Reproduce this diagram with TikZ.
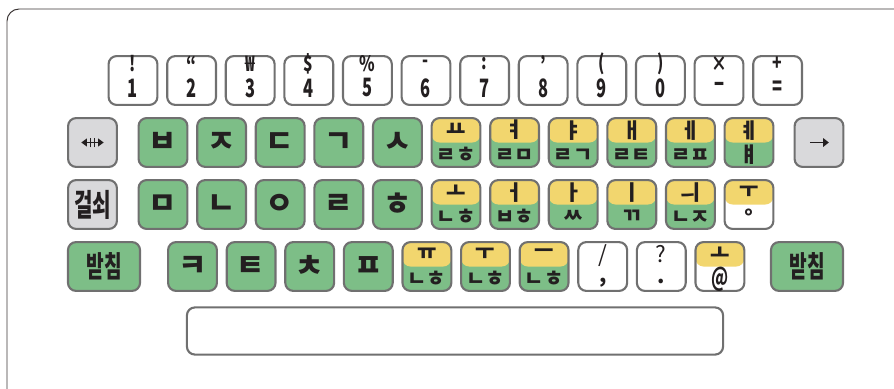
\documentclass[tikz,border=0pt]{standalone}
\usepackage{fontspec}
\setmainfont{Noto Sans CJK KR}
\usetikzlibrary{arrows.meta}
\definecolor{keygreen}{HTML}{7DBE87}
\definecolor{keyyellow}{HTML}{F2D66E}
\definecolor{keygray}{HTML}{D9D9DB}
\definecolor{keyline}{HTML}{707070}
\definecolor{ink}{HTML}{231F20}
\definecolor{frameline}{HTML}{3B3535}

\tikzset{
    key/.style={draw=keyline, line width=1.5pt, rounded corners=0.2cm, minimum width=1.22cm, minimum height=1.22cm, inner sep=0pt, text=ink},
    greenkey/.style={key, fill=keygreen, font=\fontsize{22}{22}\selectfont\bfseries},
    graykey/.style={key, fill=keygray},
    whitekey/.style={key, fill=white},
    widekey/.style={greenkey, minimum width=1.8cm, font=\fontsize{21}{21}\selectfont\bfseries},
    keytext/.style={inner sep=0pt, text=ink, font=\fontsize{15}{15}\selectfont\bfseries},
    numtext/.style={inner sep=0pt, text=ink, font=\fontsize{18}{18}\selectfont\bfseries}
}

% key with two halves: name, x, y, upper text, lower text, upper colour, lower colour, shifts
\newcommand{\halfkey}[9]{%
    \node[key, fill=#7, path picture={\fill[#6] (path picture bounding box.north west) rectangle (path picture bounding box.east);}] (#1) at (#2,#3) {};
    \node[keytext] (#1-up) at ([yshift=#8]#1.center) {#4};
    \node[keytext] (#1-dn) at ([yshift=#9]#1.center) {#5};
}
\newcommand{\narrow}[1]{\scalebox{0.65}[1]{#1}}

\begin{document}
\begin{tikzpicture}[x=0.025cm, y=-0.025cm]
\useasboundingbox (0,0) rectangle (894,388);
\draw[frameline, line width=0.7pt, rounded corners=0.3cm] (7,9) rectangle (930,420);

% number row
\foreach \up/\dn [count=\i from 0] in {!/1, “/2, ₩/3, \$/4, \%/5, -/6, :/7, ’/8, {(}/9, {)}/0, ×/−, +/=}{
    \node[whitekey] (n\i) at (133+58.6*\i, 80.5) {};
    \node[numtext, font=\fontsize{15}{15}\selectfont\bfseries] (n\i-up) at ([yshift=11.8pt]n\i.center) {\scalebox{0.75}[1]{\up}};
    \node[numtext] (n\i-dn) at ([yshift=-5.3pt]n\i.center) {\narrow{\dn}};
}

% upper letter row
\node[graykey] (tab) at (92.5,142.5) {};
\draw[ink, line width=1.3pt, {Triangle[length=4pt,width=5.5pt]}-{Triangle[length=4pt,width=5.5pt]}] ([xshift=-8pt]tab.center) -- ([xshift=8pt]tab.center);
\draw[ink, line width=0.9pt] ([xshift=-1.3pt,yshift=-3.5pt]tab.center) -- ([xshift=-1.3pt,yshift=3.5pt]tab.center)
    ([xshift=1.3pt,yshift=-3.5pt]tab.center) -- ([xshift=1.3pt,yshift=3.5pt]tab.center);
\foreach \c [count=\i from 0] in {ㅂ,ㅈ,ㄷ,ㄱ,ㅅ}
    \node[greenkey] (q\i) at (163+58.6*\i, 142.5) {\c};
\foreach \up/\dn [count=\i from 5] in {ㅛ/ㄹㅎ, ㅕ/ㄹㅁ, ㅑ/ㄹㄱ, ㅐ/ㄹㅌ, ㅔ/ㄹㅍ, ㅖ/ㅒ}
    \halfkey{q\i}{163+58.6*\i}{142.5}{\up}{\dn}{keyyellow}{keygreen}{8.8pt}{-9pt};
\node[graykey] (enter) at (819,142.5) {};
\draw[ink, line width=1.2pt, -{Triangle[length=4pt,width=6pt]}] ([xshift=-6.5pt]enter.center) -- ([xshift=7pt]enter.center);

% middle letter row
\node[graykey, font=\fontsize{22}{22}\selectfont\bfseries] (lock) at (92.5,204.5) {\narrow{걸쇠}};
\foreach \c [count=\i from 0] in {ㅁ,ㄴ,ㅇ,ㄹ,ㅎ}
    \node[greenkey] (a\i) at (163+58.6*\i, 204.5) {\c};
\foreach \up/\dn [count=\i from 5] in {ㅗ/ㄴㅎ, ㅓ/ㅂㅎ, ㅏ/ㅆ, ㅣ/ㄲ, ㅢ/ㄴㅈ}
    \halfkey{a\i}{163+58.6*\i}{204.5}{\up}{\dn}{keyyellow}{keygreen}{8.8pt}{-9pt};
\halfkey{a10}{749}{204.5}{ㅜ}{°}{keyyellow}{white}{8.8pt}{-9pt}

% lower letter row
\node[widekey] (shiftl) at (104,266.5) {\narrow{받침}};
\foreach \c [count=\i from 0] in {ㅋ,ㅌ,ㅊ,ㅍ}
    \node[greenkey] (z\i) at (192.5+58.6*\i, 266.5) {\c};
\foreach \up/\dn [count=\i from 4] in {ㅠ/ㄴㅎ, ㅜ/ㄴㅎ, ㅡ/ㄴㅎ}
    \halfkey{z\i}{192.5+58.6*\i}{266.5}{\up}{\dn}{keyyellow}{keygreen}{8.8pt}{-9pt};
\halfkey{z7}{602.7}{266.5}{\fontsize{16}{16}\selectfont\mdseries /}{\fontsize{15}{15}\selectfont ,}{white}{white}{8pt}{-11.5pt}
\halfkey{z8}{661.3}{266.5}{\fontsize{16}{16}\selectfont\mdseries ?}{\fontsize{15}{15}\selectfont .}{white}{white}{8.5pt}{-10.5pt}
\halfkey{z9}{719.9}{266.5}{ㅗ}{\fontsize{18}{18}\selectfont\narrow{@}}{keyyellow}{white}{8.8pt}{-9pt}
\node[widekey] (shiftr) at (807,266.5) {\narrow{받침}};

% space bar
\node[whitekey, minimum width=13.4cm, minimum height=1.18cm] (space) at (455,331) {};
\end{tikzpicture}
\end{document}
